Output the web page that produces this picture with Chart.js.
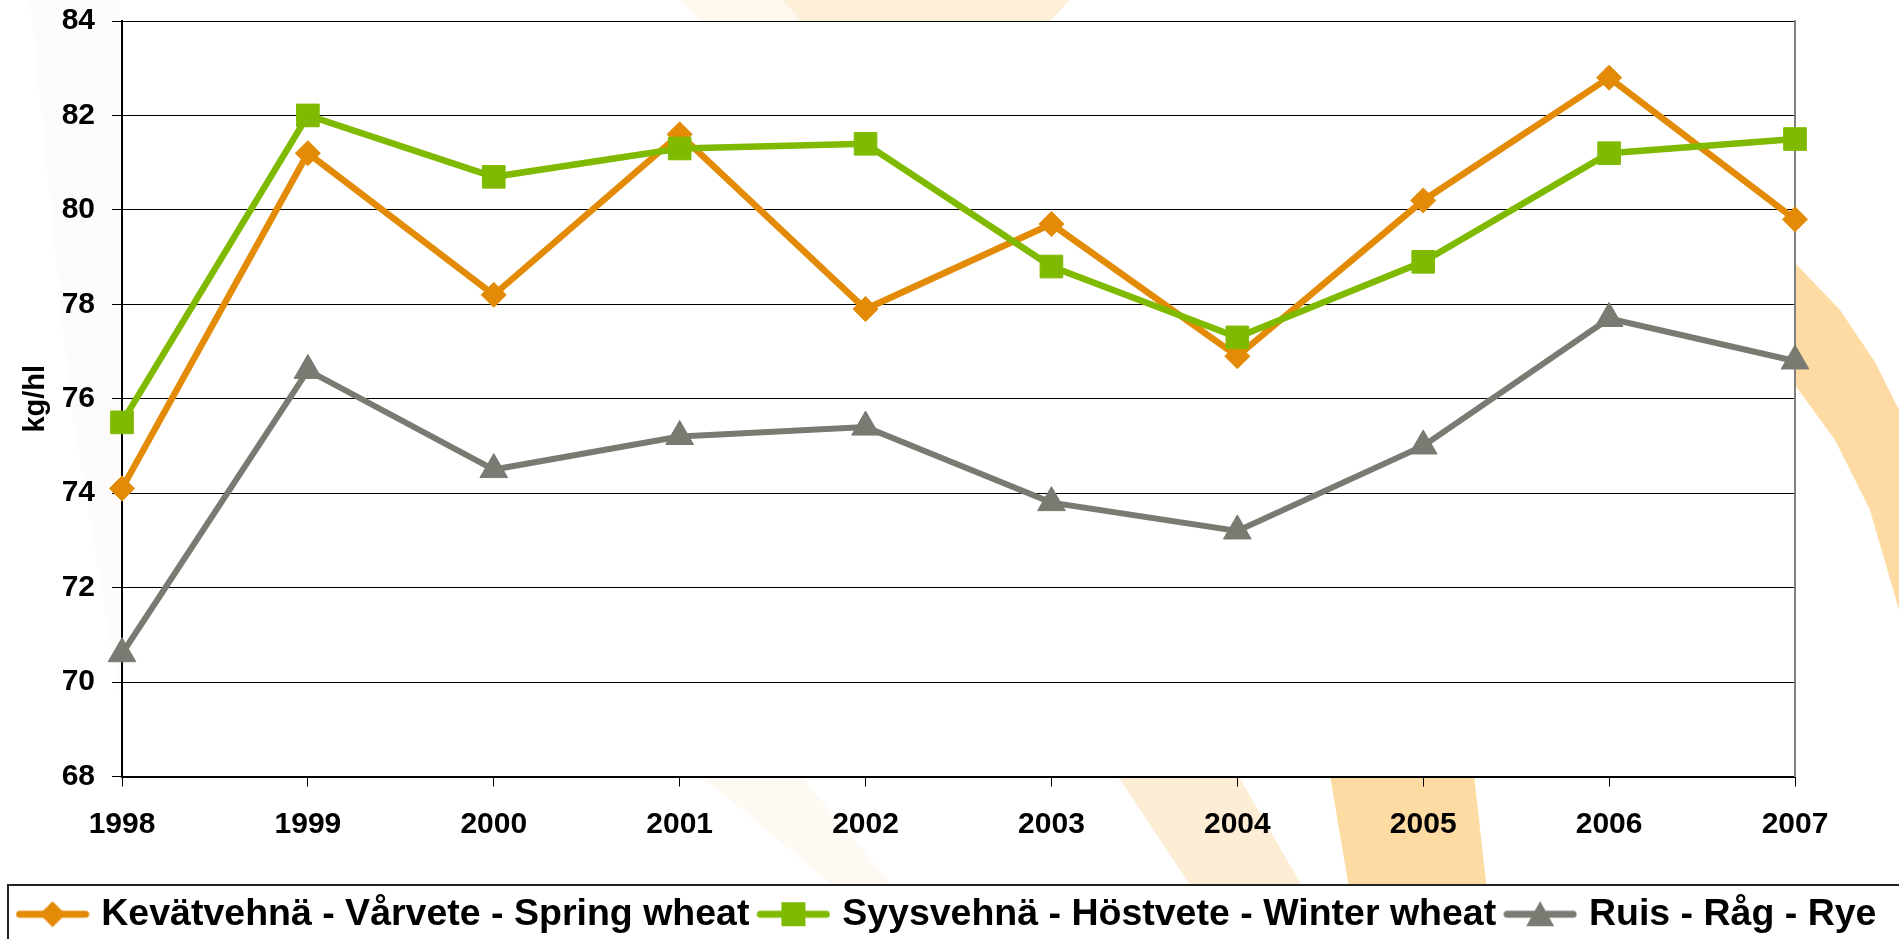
<!DOCTYPE html>
<html>
<head>
<meta charset="utf-8">
<script src="https://cdn.jsdelivr.net/npm/chart.js@4.4.1/dist/chart.umd.min.js"></script>
<style>
  html, body { margin: 0; padding: 0; background: #fff; }
  #wrap { width: 1899px; height: 939px; }
</style>
</head>
<body>
<div id="wrap"><canvas id="myChart" width="1899" height="939"></canvas></div>
<script>
// Vuodet / år / years
const vuodet = ['1998', '1999', '2000', '2001', '2002', '2003', '2004', '2005', '2006', '2007'];

// Hehtolitrapaino kg/hl
const kevatvehna = [74.1, 81.2, 78.2, 81.6, 77.9, 79.7, 76.9, 80.2, 82.8, 79.8];
const syysvehna = [75.5, 82.0, 80.7, 81.3, 81.4, 78.8, 77.3, 78.9, 81.2, 81.5];
const ruis = [70.6, 76.6, 74.5, 75.2, 75.4, 73.8, 73.2, 75.0, 77.7, 76.8];

const sarjat = ['Kevätvehnä - Vårvete - Spring wheat', 'Syysvehnä - Höstvete - Winter wheat', 'Ruis - Råg - Rye'];

const yMin = 68;
const yMax = 84;
const yStep = 2;

const orange = '#E38B06';
const green = '#7FBA00';
const grey = '#7A7A72';
const fontFamily = '"Liberation Sans", Arial, sans-serif';

// pieni kuva legendaan: viiva + merkki keskellä
function legendIcon(color, style) {
    const c = document.createElement('canvas');
    c.width = 74;
    c.height = 30;
    const g = c.getContext('2d');
    g.strokeStyle = color;
    g.fillStyle = color;
    g.lineWidth = 7;
    g.lineCap = 'round';
    g.beginPath();
    g.moveTo(4, 15);
    g.lineTo(70, 15);
    g.stroke();
    g.beginPath();
    if (style === 'diamond') {
        g.moveTo(37, 2); g.lineTo(50, 15); g.lineTo(37, 28); g.lineTo(24, 15);
    } else if (style === 'square') {
        g.rect(25, 3, 24, 24);
    } else {
        g.moveTo(37, 2); g.lineTo(51, 27); g.lineTo(23, 27);
    }
    g.closePath();
    g.fill();
    return c;
}
const icons = [legendIcon(orange, 'diamond'), legendIcon(green, 'square'), legendIcon(grey, 'triangle')];

function legendBoxTop(chart) {
    const hb = chart.legend.legendHitBoxes[0];
    return Math.round(hb.top + hb.height / 2 - 29);
}

// taustan vaalea oranssi logo (vain koriste)
const taustaPlugin = {
    id: 'tausta',
    beforeDraw(chart) {
        const ctx = chart.ctx;
        const a = chart.chartArea;
        const poly = (pts, color) => {
            ctx.fillStyle = color;
            ctx.beginPath();
            ctx.moveTo(pts[0][0], pts[0][1]);
            pts.slice(1).forEach(p => ctx.lineTo(p[0], p[1]));
            ctx.closePath();
            ctx.fill();
        };
        ctx.save();
        ctx.fillStyle = '#ffffff';
        ctx.fillRect(0, 0, chart.width, chart.height);
        poly([[30, 0], [120, 0], [120, 700], [70, 400]], '#FEFCFA');
        poly([[680, 0], [783, 0], [800, 21], [700, 21]], '#FFF8EF');
        poly([[783, 0], [1070, 0], [1050, 21], [800, 21]], '#FEEFD9');
        poly([[700, 775], [800, 775], [905, 900], [850, 900]], '#FFF9F3');
        poly([[1117, 775], [1238, 775], [1310, 900], [1200, 900]], '#FEEDD5');
        poly([[1330, 775], [1474, 775], [1488, 900], [1351, 900]], '#FDDBA3');
        poly([[1795, 263], [1840, 310], [1875, 362], [1899, 410], [1899, 610], [1870, 510], [1835, 440], [1795, 385]], '#FDDBA3');
        ctx.fillStyle = '#ffffff';
        ctx.fillRect(a.left, a.top, a.right - a.left, a.bottom - a.top);
        ctx.fillRect(7, legendBoxTop(chart), chart.width, chart.height);
        ctx.restore();
    },
    afterDraw(chart) {
        const ctx = chart.ctx;
        ctx.save();
        ctx.strokeStyle = '#222';
        ctx.lineWidth = 2;
        ctx.strokeRect(8, legendBoxTop(chart), chart.width + 10, chart.height);
        ctx.restore();
    }
};

const ctx = document.getElementById('myChart');
new Chart(ctx, {
    type: 'line',
    data: {
        labels: vuodet,
        datasets: [{
            label: sarjat[0],
            data: kevatvehna,
            borderColor: orange,
            backgroundColor: orange,
            borderWidth: 6.5,
            pointStyle: 'rectRot',
            pointRadius: 12.5,
            pointBorderWidth: 1,
            order: 3
        }, {
            label: sarjat[1],
            data: syysvehna,
            borderColor: green,
            backgroundColor: green,
            borderWidth: 6.5,
            pointStyle: 'rect',
            pointRadius: 16,
            pointBorderWidth: 1,
            order: 2
        }, {
            label: sarjat[2],
            data: ruis,
            borderColor: grey,
            backgroundColor: grey,
            borderWidth: 6,
            pointStyle: 'triangle',
            pointRadius: 16,
            pointBorderWidth: 1,
            order: 1
        }]
    },
    options: {
        responsive: false,
        animation: false,
        devicePixelRatio: 1,
        clip: false,
        layout: {
            padding: { top: 21, left: 0, right: 0, bottom: -4 }
        },
        elements: {
            line: { tension: 0 }
        },
        plugins: {
            tooltip: { enabled: false },
            legend: {
                position: 'bottom',
                labels: {
                    usePointStyle: true,
                    pointStyleWidth: 60,
                    padding: 14,
                    color: '#000',
                    font: { family: fontFamily, size: 37.5, weight: 'bold' },
                    generateLabels: chart => chart.data.datasets.map((ds, i) => ({
                        text: ds.label,
                        pointStyle: icons[i],
                        fillStyle: ds.borderColor,
                        strokeStyle: ds.borderColor,
                        lineWidth: 0,
                        fontColor: '#000',
                        hidden: false,
                        datasetIndex: i
                    }))
                }
            }
        },
        scales: {
            x: {
                offset: false,
                afterFit: s => { s.height = 105; },
                grid: {
                    display: true,
                    drawOnChartArea: false,
                    drawTicks: true,
                    tickLength: 10,
                    color: '#000',
                    lineWidth: 1
                },
                border: { display: true, color: '#000', width: 2 },
                ticks: {
                    color: '#000',
                    padding: 20,
                    maxRotation: 0,
                    font: { family: fontFamily, size: 30, weight: 'bold' }
                }
            },
            y: {
                min: yMin,
                max: yMax,
                afterFit: s => {
                    s.width = 122;
                    s.paddingTop = 0;
                    s.paddingBottom = 0;
                },
                grid: {
                    color: '#000',
                    lineWidth: 1,
                    tickLength: 10
                },
                border: { display: true, color: '#000', width: 2 },
                ticks: {
                    stepSize: yStep,
                    color: '#000',
                    padding: 17,
                    font: { family: fontFamily, size: 30, weight: 'bold' }
                },
                title: {
                    display: true,
                    text: 'kg/hl',
                    color: '#000',
                    padding: { top: 19, bottom: 0 },
                    font: { family: fontFamily, size: 29, weight: 'bold' }
                }
            },
            y2: {
                position: 'right',
                afterFit: s => {
                    s.width = 104;
                    s.paddingTop = 0;
                    s.paddingBottom = 0;
                },
                grid: { display: false, drawTicks: false },
                ticks: { display: false },
                border: { display: true, color: '#808080', width: 2 }
            }
        }
    },
    plugins: [taustaPlugin]
});
</script>
</body>
</html>
